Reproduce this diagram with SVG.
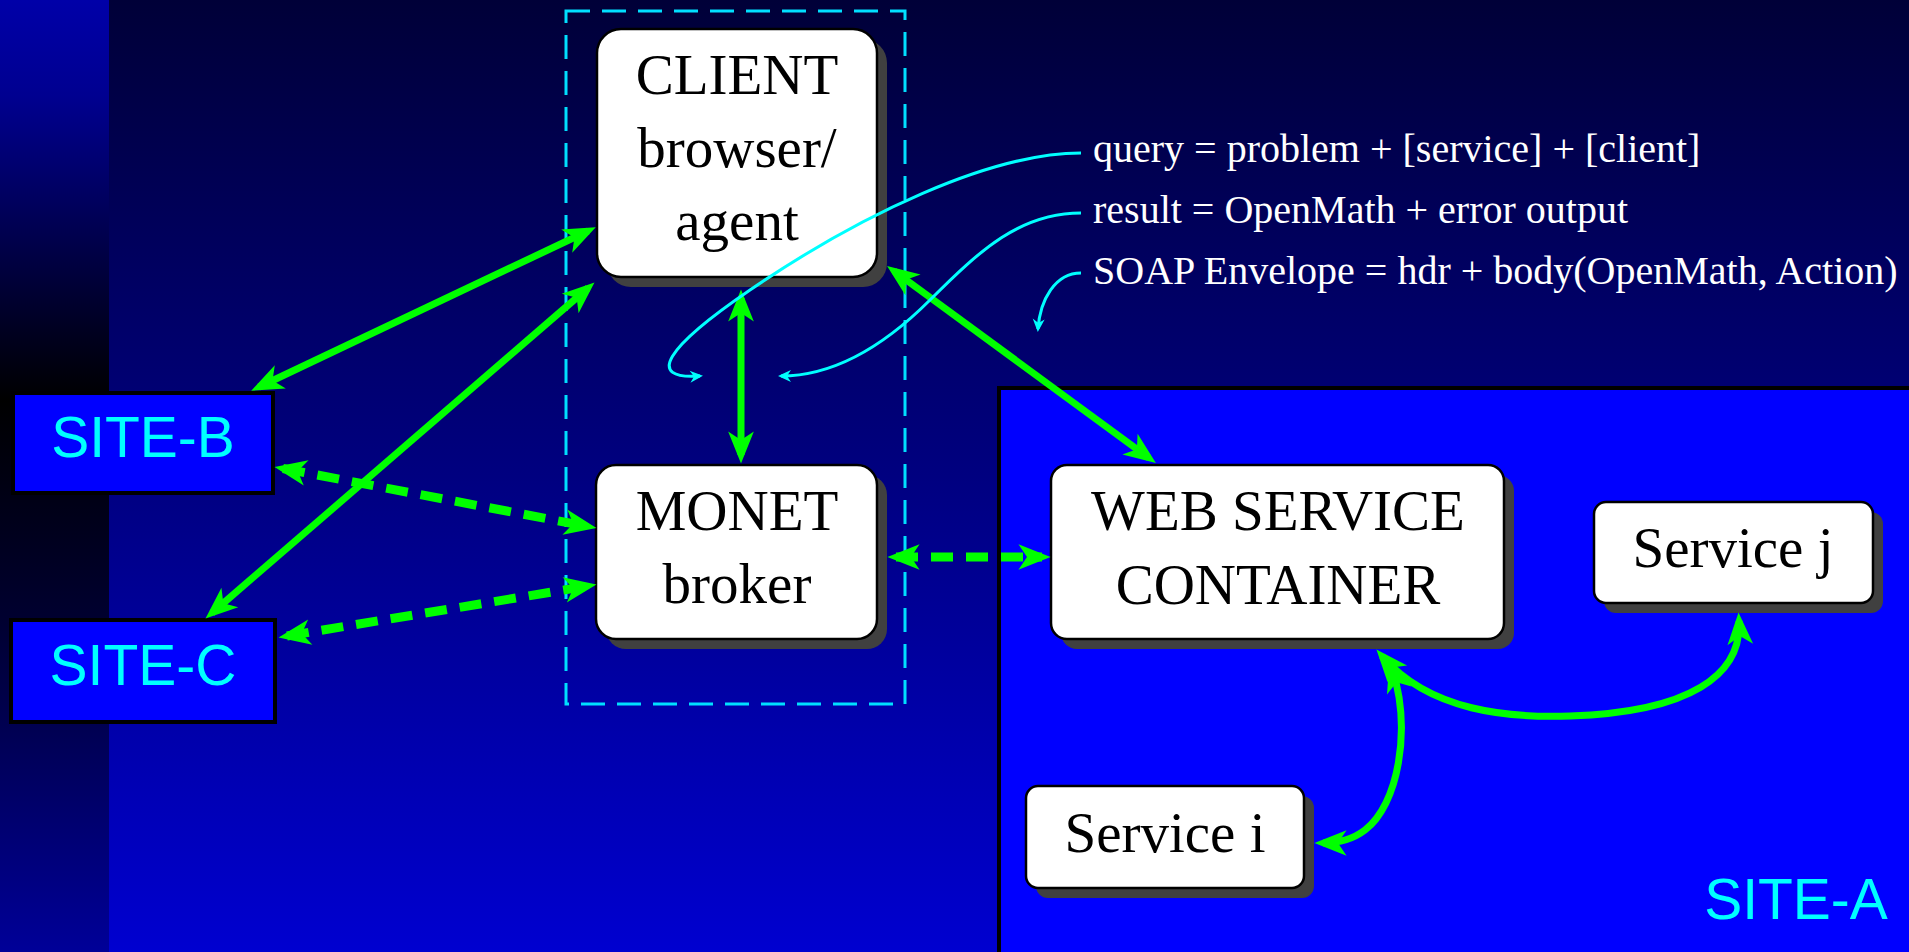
<svg xmlns="http://www.w3.org/2000/svg" width="1909" height="952" viewBox="0 0 1909 952">
<defs>
<linearGradient id="bg" x1="0" y1="0" x2="0" y2="1">
<stop offset="0" stop-color="#000038"/>
<stop offset="0.5" stop-color="#000080"/>
<stop offset="1" stop-color="#0000d0"/>
</linearGradient>
<linearGradient id="strip" x1="0" y1="0" x2="0" y2="1">
<stop offset="0" stop-color="#0000a8"/>
<stop offset="0.1" stop-color="#000090"/>
<stop offset="0.42" stop-color="#000000"/>
<stop offset="0.65" stop-color="#000030"/>
<stop offset="1" stop-color="#000098"/>
</linearGradient>
<marker id="ah" markerUnits="userSpaceOnUse" markerWidth="40" markerHeight="30" viewBox="-24 -14 34 28" refX="0" refY="0" orient="auto-start-reverse">
<path d="M8,0 L-22,-12 L-14,0 L-22,12 Z" fill="#00ff00"/>
</marker>
<marker id="ch" markerUnits="userSpaceOnUse" markerWidth="20" markerHeight="16" viewBox="-12 -8 16 16" refX="0" refY="0" orient="auto">
<path d="M3,0 L-10,-6 L-6,0 L-10,6 Z" fill="#00ffff"/>
</marker>
</defs>
<style>
.box{fill:#ffffff;stroke:#000000;stroke-width:2.5}
.sh{fill:#404040}
.t{font-family:"Liberation Serif","Times New Roman",serif;font-size:57px;fill:#000000;text-anchor:middle}
.site{fill:#0000ff;stroke:#000000;stroke-width:4}
.st{font-family:"Liberation Sans",Arial,sans-serif;font-size:57px;fill:#00ffff;text-anchor:middle}
.lbl{font-family:"Liberation Serif","Times New Roman",serif;font-size:40px;fill:#ffffff}
.g{fill:none;stroke:#00ff00;stroke-width:7;marker-start:url(#ah);marker-end:url(#ah)}
.gd{fill:none;stroke:#00ff00;stroke-width:9;stroke-dasharray:22 13;marker-start:url(#ah);marker-end:url(#ah)}
.c{fill:none;stroke:#00ffff;stroke-width:3;marker-end:url(#ch)}
</style>
<rect x="0" y="0" width="1909" height="952" fill="url(#bg)"/>
<rect x="0" y="0" width="109" height="952" fill="url(#strip)"/>

<g id="site-a">
<rect class="site" x="999" y="388" width="920" height="580" stroke-width="3"/>
<text class="st" x="1796" y="919">SITE-A</text>
</g>

<g id="client-group">
<rect x="566" y="11" width="339" height="693" fill="none" stroke="#00e0ff" stroke-width="3" stroke-dasharray="24 12"/>
</g>

<g id="client">
<rect class="sh" x="607" y="39" width="280" height="248" rx="24"/>
<rect class="box" x="597" y="29" width="280" height="248" rx="24"/>
<text class="t" x="737" y="94">CLIENT</text>
<text class="t" x="737" y="167">browser/</text>
<text class="t" x="737" y="240">agent</text>
</g>

<g id="monet">
<rect class="sh" x="606" y="475" width="281" height="174" rx="20"/>
<rect class="box" x="596" y="465" width="281" height="174" rx="20"/>
<text class="t" x="737" y="530">MONET</text>
<text class="t" x="737" y="603">broker</text>
</g>

<g id="site-b">
<rect class="site" x="13" y="393" width="260" height="100"/>
<text class="st" x="143" y="457">SITE-B</text>
</g>

<g id="site-c">
<rect class="site" x="11" y="620" width="264" height="102"/>
<text class="st" x="143" y="685">SITE-C</text>
</g>

<g id="wsc">
<rect class="sh" x="1061" y="475" width="453" height="174" rx="16"/>
<rect class="box" x="1051" y="465" width="453" height="174" rx="16"/>
<text class="t" x="1278" y="530">WEB SERVICE</text>
<text class="t" x="1278" y="604">CONTAINER</text>
</g>

<g id="service-j">
<rect class="sh" x="1604" y="512" width="279" height="101" rx="12"/>
<rect class="box" x="1594" y="502" width="279" height="101" rx="12"/>
<text class="t" x="1733" y="567">Service j</text>
</g>

<g id="service-i">
<rect class="sh" x="1036" y="796" width="278" height="102" rx="12"/>
<rect class="box" x="1026" y="786" width="278" height="102" rx="12"/>
<text class="t" x="1165" y="852">Service i</text>
</g>

<g id="labels">
<text class="lbl" x="1093" y="162">query = problem + [service] + [client]</text>
<text class="lbl" x="1093" y="223">result = OpenMath + error output</text>
<text class="lbl" x="1093" y="284">SOAP Envelope = hdr + body(OpenMath, Action)</text>
</g>

<g id="connectors">
<path class="g" d="M259,387 L588,231"/>
<path class="g" d="M212,613 L588,288"/>
<path class="g" d="M741,298 L741,455" stroke-width="6"/>
<path class="g" d="M894,271 L1149,458"/>
<path class="gd" d="M283,468.5 L588,526.5"/>
<path class="gd" d="M287,636 L588,586"/>
<path class="gd" d="M896,557 L1042,557"/>
<path class="g" d="M1382,656 C1430,712 1510,718 1570,716 C1690,712 1742,675 1739,621"/>
<path class="g" d="M1392,668 C1412,730 1398,805 1365,830 C1352,840 1338,843 1323,843"/>
<path class="c" d="M1081,153 C990,153 860,215 750,290 C665,348 645,380 700,376"/>
<path class="c" d="M1081,213 C1020,213 980,250 930,300 C880,350 830,376 781,376"/>
<path class="c" d="M1081,273 C1055,273 1040,300 1038,329"/>
</g>
</svg>
